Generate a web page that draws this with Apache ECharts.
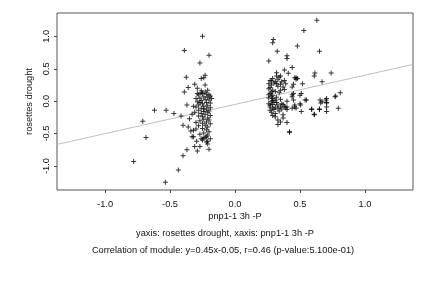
<!DOCTYPE html>
<html><head><meta charset="utf-8">
<script src="https://cdn.jsdelivr.net/npm/echarts@6/dist/echarts.min.js"></script>
<style>html,body{margin:0;padding:0;background:#fff}#c{width:432px;height:288px}</style>
</head><body><div id="c"></div>
<script>
// left cluster (x values, y values)
const leftX = [-0.25,-0.39,-0.20,-0.27,-0.375,-0.26,-0.24,-0.23,-0.31,-0.36,-0.23,-0.29,-0.39,-0.26,
 -0.62,-0.53,-0.47,-0.415,-0.71,-0.37,-0.40,-0.36,-0.34,-0.30,-0.32,-0.685,-0.78,-0.536,-0.436,-0.40,-0.37,-0.31,-0.27,-0.29,-0.20,-0.295,-0.26,-0.245,-0.22,-0.22,-0.21,-0.33,
 -0.28,-0.25,-0.22,-0.20,-0.19,-0.21,-0.24,-0.27,-0.30,-0.23,-0.20,-0.26,-0.29,-0.22,-0.19,-0.25,-0.28,-0.21,-0.24,-0.30,-0.19,-0.26,-0.22,-0.28,-0.20,-0.24,-0.31,-0.21,-0.26,-0.23,-0.19,-0.28,-0.25,-0.21,-0.24,-0.20,-0.27,-0.22,-0.25,-0.19,-0.23,-0.28,-0.21,-0.25,-0.22,-0.20,-0.24,-0.27,-0.21,-0.23,-0.19,-0.25,-0.21,-0.24,-0.27,-0.18,-0.23,-0.26,-0.21,-0.29,-0.32,-0.33,-0.35,-0.30,-0.32];
const leftY = [1.00,0.78,0.71,0.59,0.37,0.35,0.36,0.40,0.26,0.21,0.25,0.20,0.14,0.13,
 -0.14,-0.14,-0.19,-0.23,-0.31,-0.06,-0.37,-0.40,-0.46,-0.43,-0.55,-0.56,-0.93,-1.25,-1.06,-0.84,-0.75,-0.70,-0.70,-0.77,-0.74,-0.62,-0.58,-0.57,-0.55,-0.63,-0.62,-0.55,
 0.10,0.12,0.11,0.10,0.08,0.06,0.07,0.05,0.04,0.03,0.02,0.01,-0.01,-0.02,-0.03,-0.04,-0.06,-0.07,-0.08,-0.09,-0.10,-0.11,-0.12,-0.14,-0.15,-0.16,-0.17,-0.18,-0.19,-0.21,-0.22,-0.23,-0.24,-0.26,-0.28,-0.29,-0.30,-0.32,-0.34,-0.35,-0.37,-0.38,-0.40,-0.42,-0.44,-0.47,-0.49,-0.51,-0.52,-0.56,-0.58,-0.60,-0.66,-0.12,-0.02,0.04,0.14,0.16,0.17,0.12,-0.08,-0.20,-0.27,-0.33,-0.45];
// right cluster
const rightX = [0.63,0.53,0.295,0.29,0.48,0.325,0.65,0.40,0.40,0.26,0.44,0.38,0.32,0.41,0.615,0.61,0.74,0.67,0.52,0.81,0.775,0.705,0.70,0.705,0.705,0.705,0.655,0.66,0.795,0.59,0.61,0.65,0.55,0.50,0.51,0.45,0.44,0.505,0.42,0.47,0.48,0.35,0.32,
 0.29,0.27,0.31,0.26,0.28,0.32,0.34,0.38,0.35,0.37,0.38,0.35,0.29,0.26,0.27,0.29,0.28,0.26,0.29,0.31,0.28,0.26,0.29,0.32,0.27,0.29,0.31,0.27,0.33,0.35,0.39,0.37,0.36,0.40,0.44,0.46,0.47,0.45,0.44,0.54,0.45,0.46,0.46,0.47,0.44,0.40,0.50,0.51,0.31,0.33,0.37,0.35,0.33,0.40,0.42,0.59,0.61,0.65,0.67,0.705,0.77,
 0.28,0.30,0.33,0.27,0.31,0.34,0.28,0.32,0.35,0.30,0.27,0.33,0.30,0.28,0.34,0.31,0.36,0.38,0.40,0.29,0.26,0.33,0.36,0.39,0.37,0.29];
const rightY = [1.25,1.09,0.95,0.90,0.85,0.77,0.77,0.70,0.66,0.62,0.52,0.48,0.44,0.43,0.435,0.39,0.435,0.30,0.27,0.13,0.08,0.04,0.02,-0.03,-0.09,-0.16,0.02,-0.03,-0.11,-0.13,-0.20,-0.13,0.02,0.09,0.12,0.12,0.10,-0.06,-0.47,0.36,0.35,0.39,0.39,
 0.35,0.32,0.30,0.27,0.25,0.27,0.37,0.32,0.26,0.22,0.18,0.17,0.17,0.19,0.12,0.09,0.07,0.05,0.04,0.02,-0.01,-0.04,-0.05,-0.02,-0.09,-0.11,-0.09,-0.14,-0.11,-0.09,-0.10,-0.05,-0.04,0.00,0.07,0.36,0.34,0.26,0.22,0.02,0.02,-0.06,-0.09,-0.11,-0.11,-0.09,-0.04,-0.16,-0.24,-0.29,-0.26,-0.32,-0.36,-0.33,-0.48,-0.12,-0.21,-0.12,-0.01,-0.02,0.07,
 0.31,0.28,0.23,0.21,0.15,0.13,0.14,0.06,0.03,-0.02,-0.06,-0.06,-0.13,-0.17,-0.15,-0.19,-0.12,-0.08,-0.13,0.01,0.10,0.33,0.30,0.27,-0.21,-0.22];
// regression line y = 0.45x - 0.05, endpoints at plot edges
const fitX = [-1.37, 1.37];
const fitY = [-0.667, 0.567];
const xTicks = [-1.0, -0.5, 0.0, 0.5, 1.0];
const yTicks = [-1.0, -0.5, 0.0, 0.5, 1.0];
const xTitle = 'pnp1-1 3h -P';
const yTitle = 'rosettes drought';
const sub1 = 'yaxis: rosettes drought, xaxis: pnp1-1 3h -P';
const sub2 = 'Correlation of module: y=0.45x-0.05, r=0.46 (p-value:5.100e-01)';

const pts = [];
leftX.forEach((x,i)=>pts.push([x,leftY[i]]));
rightX.forEach((x,i)=>pts.push([x,rightY[i]]));
const FONT = 'Liberation Sans';
const FS = 9.25;
const chart = echarts.init(document.getElementById('c'), null, {renderer:'canvas'});
chart.setOption({
  animation:false,
  grid:{left:57,top:13,right:19,bottom:98,show:true,borderColor:'#555',borderWidth:1,backgroundColor:'transparent'},
  xAxis:{type:'value',min:-1.37,max:1.37,
    axisLine:{show:false,onZero:false},splitLine:{show:false},
    axisTick:{show:true,customValues:xTicks,length:3,lineStyle:{color:'#444'}},
    axisLabel:{customValues:xTicks,formatter:v=>v.toFixed(1),fontFamily:FONT,fontSize:FS,color:'#111',margin:10}},
  yAxis:{type:'value',min:-1.37,max:1.36,
    axisLine:{show:false,onZero:false},splitLine:{show:false},
    axisTick:{show:true,customValues:yTicks,length:3,lineStyle:{color:'#444'}},
    axisLabel:{customValues:yTicks,formatter:v=>v.toFixed(1),rotate:90,fontFamily:FONT,fontSize:FS,color:'#111',margin:6},
    name:yTitle,nameLocation:'middle',nameGap:17,nameRotate:90,nameTextStyle:{fontFamily:FONT,fontSize:FS,color:'#111'}},
  series:[
    {type:'line',data:fitX.map((x,i)=>[x,fitY[i]]),symbol:'none',lineStyle:{color:'#c0c0c0',width:1},z:1},
    {type:'scatter',data:pts,symbol:'path://M4,0H6V4H10V6H6V10H4V6H0V4H4Z',symbolSize:5,itemStyle:{color:'#000'},z:2}
  ],
  graphic:[
    {type:'text',x:235,y:216,style:{text:xTitle,font:FS+'px '+FONT,fill:'#111',textAlign:'center',textVerticalAlign:'middle'}},
    {type:'text',x:225,y:233,style:{text:sub1,font:FS+'px '+FONT,fill:'#111',textAlign:'center',textVerticalAlign:'middle'}},
    {type:'text',x:223,y:250,style:{text:sub2,font:FS+'px '+FONT,fill:'#111',textAlign:'center',textVerticalAlign:'middle'}}
  ]
});
</script></body></html>
